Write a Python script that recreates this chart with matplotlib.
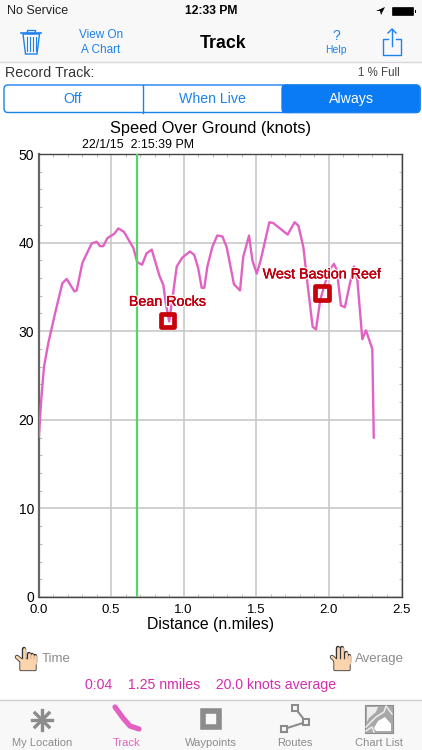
import matplotlib
matplotlib.use("Agg")
import matplotlib.pyplot as plt
import matplotlib.patheffects as pe
from matplotlib.patches import Rectangle, FancyBboxPatch, Polygon
from matplotlib.ticker import MultipleLocator

plt.rcParams['font.family'] = ['Liberation Sans', 'DejaVu Sans']

distance = [0.003, 0.017, 0.038, 0.068, 0.114, 0.164, 0.194, 0.247, 0.263, 0.302, 0.366, 0.40,
            0.424, 0.446, 0.474, 0.522, 0.55, 0.589, 0.653, 0.68, 0.713, 0.745, 0.78, 0.832,
            0.86, 0.876, 0.90, 0.924, 0.952, 0.99, 1.043, 1.073, 1.10, 1.124, 1.142, 1.163,
            1.197, 1.231, 1.266, 1.296, 1.346, 1.388, 1.41, 1.45, 1.473, 1.503, 1.53, 1.59,
            1.617, 1.716, 1.764, 1.79, 1.824, 1.858, 1.888, 1.911, 1.94, 1.973, 2.003, 2.035,
            2.054, 2.083, 2.11, 2.145, 2.173, 2.196, 2.23, 2.255, 2.299, 2.309]
speed = [18.1, 21.9, 26.0, 28.7, 32.0, 35.4, 35.9, 34.5, 34.6, 37.7, 39.9, 40.1,
         39.6, 39.6, 40.5, 41.0, 41.6, 41.2, 39.4, 37.8, 37.5, 38.8, 39.2, 36.3,
         35.2, 33.2, 31.1, 33.9, 37.3, 38.3, 39.0, 38.6, 37.1, 34.9, 34.9, 37.3,
         39.5, 40.8, 40.7, 39.5, 35.3, 34.6, 38.4, 40.8, 38.0, 36.5, 38.0, 42.3,
         42.2, 40.9, 42.3, 41.9, 39.5, 34.6, 30.5, 30.2, 33.5, 35.4, 36.9, 37.6,
         36.9, 32.9, 32.7, 35.4, 37.3, 35.8, 29.1, 30.1, 28.0, 18.0]

cursor_distance = 0.68
waypoint_names = ["Bean Rocks", "West Bastion Reef"]
waypoint_x = [0.888, 1.952]
waypoint_y = [31.2, 34.3]

x_ticks = [0.0, 0.5, 1.0, 1.5, 2.0, 2.5]
y_ticks = [0, 10, 20, 30, 40, 50]
tab_names = ["My Location", "Track", "Waypoints", "Routes", "Chart List"]
tab_centers = [42, 127, 211, 295, 379]

BLUE = "#1c82ee"
PINK = "#e262c4"
MAGENTA = "#d52eac"
GREY = "#8c8c8c"
SKIN = "#fbd3ad"

fig = plt.figure(figsize=(4.22, 7.5), dpi=100, facecolor="white")

# screen furniture, in pixel coordinates
ui = fig.add_axes([0, 0, 1, 1], zorder=0)
ui.set_xlim(0, 422)
ui.set_ylim(750, 0)
ui.axis("off")


def txt(x, y, s, size, color="black", ha="center", **kw):
    ui.text(x, y, s, fontsize=size, color=color, ha=ha, va="center", **kw)


ui.add_patch(Rectangle((0, 0), 422, 62, fc="#f8f8f8", ec="none"))
ui.plot([0, 422], [62, 62], color="#d8d8d8", lw=1)
txt(7, 11, "No Service", 9.0, "#222222", ha="left")
txt(211, 11, "12:33 PM", 8.7, weight="bold")
ui.add_patch(Polygon([(376, 11), (385, 7), (381, 15), (380, 11)], fc="black"))
ui.add_patch(FancyBboxPatch((393, 8), 20, 7, boxstyle="round,pad=0.5", fc="black", ec="black", lw=0.5))
ui.add_patch(Rectangle((414.5, 10), 1, 3, fc="black"))

# trash icon
ui.add_patch(Polygon([(23, 34), (25.5, 54), (37, 54), (39.5, 34)], fc="none", ec=BLUE, lw=1))
ui.plot([21, 41], [33, 33], color=BLUE, lw=1.2)
ui.add_patch(Rectangle((27, 29.5), 8, 3, fc="none", ec=BLUE, lw=1))
for tx in [27, 30, 33, 36]:
    ui.plot([tx, tx], [37, 51], color=BLUE, lw=0.8)

txt(101, 35, "View On", 8.5, BLUE)
txt(101, 50, "A Chart", 8.5, BLUE)
txt(223, 44, "Track", 12.8, weight="bold")
txt(336, 36, "?", 10, BLUE)
txt(336, 50, "Help", 7.5, BLUE)

# share icon
ui.plot([388, 383, 383, 401, 401, 396], [39, 39, 55, 55, 39, 39], color=BLUE, lw=1)
ui.plot([392, 392], [29, 46], color=BLUE, lw=1)
ui.plot([388, 392, 396], [33, 29, 33], color=BLUE, lw=1)

txt(5, 73, "Record Track:", 10.3, "#333333", ha="left")
txt(400, 73, "1 % Full", 8.3, "#444444", ha="right")

# segmented control
ui.add_patch(FancyBboxPatch((4, 85), 416, 27.5, boxstyle="round,pad=0,rounding_size=4", fc="white", ec=BLUE, lw=1))
ui.add_patch(FancyBboxPatch((282, 85), 138, 27.5, boxstyle="round,pad=0,rounding_size=4", fc="#0a7bf5", ec=BLUE, lw=1))
ui.add_patch(Rectangle((282, 84.5), 8, 28.5, fc="#0a7bf5", ec="none"))
ui.plot([142.5, 142.5], [85, 112.5], color=BLUE, lw=1)
txt(72.5, 99, "Off", 10.2, BLUE)
txt(212, 99, "When Live", 10.2, BLUE)
txt(351, 99, "Always", 10.2, "white")

txt(211, 128, "Speed Over Ground (knots)", 11.8)
txt(138, 144.5, "22/1/15  2:15:39 PM", 8.9)

# bottom read-outs
txt(211, 625, "Distance (n.miles)", 11.4)
txt(42, 659, "Time", 9.5, GREY, ha="left")
txt(355, 659, "Average", 9.5, GREY, ha="left")
txt(211, 684.5, "0:04    1.25 nmiles    20.0 knots average", 10.2, MAGENTA)


def hand(x0, thumb_x, fingers):
    # little pointing hand next to Time / Average, fingers are (x, top y)
    outline = "#333333"
    ui.plot([thumb_x, x0 + 3], [657, 663], color=outline, lw=3.2, solid_capstyle="round", zorder=3)
    for fx, top in fingers:
        ui.plot([fx, fx], [top, 662], color=outline, lw=3.2, solid_capstyle="round", zorder=3)
    ui.add_patch(FancyBboxPatch((x0, 660), 14, 9.5, boxstyle="round,pad=1.2", fc=SKIN, ec=outline, lw=0.6, zorder=3))
    ui.plot([thumb_x, x0 + 3], [657, 663], color=SKIN, lw=2.0, solid_capstyle="round", zorder=3)
    for fx, top in fingers:
        ui.plot([fx, fx], [top, 663], color=SKIN, lw=2.0, solid_capstyle="round", zorder=3)


hand(21, 17, [(24, 649), (28.5, 654), (32, 655), (35, 656)])
hand(335, 332, [(338, 648), (342, 648), (346, 653), (349, 656)])

# tab bar
ui.add_patch(Rectangle((0, 699.5), 422, 50.5, fc="#f8f8f8", ec="none"))
ui.plot([0, 422], [699.5, 699.5], color="#d0d0d0", lw=1)
for name, cx in zip(tab_names, tab_centers):
    txt(cx, 743, name, 8.0, PINK if name == "Track" else GREY)

for dx, dy in [(10, 0), (0, 10), (7, 7), (7, -7)]:
    ui.plot([42 - dx, 42 + dx], [720 - dy, 720 + dy], color=GREY, lw=2.4)
ui.plot([115, 123, 130, 139], [707, 718, 726, 729], color=PINK, lw=3.8, solid_capstyle="round")
ui.add_patch(Rectangle((202.5, 711), 16, 16, fc="none", ec=GREY, lw=4))
ui.plot([284, 306, 295], [729, 722, 708], color=GREY, lw=1.5)
for rx, ry in [(281, 726), (303, 719), (292, 705)]:
    ui.add_patch(Rectangle((rx, ry), 6, 6, fc="#f8f8f8", ec=GREY, lw=1.5, zorder=3))

# chart list icon, a small grey map
ui.add_patch(Rectangle((365, 705), 28, 28, fc="#a8a8a8", ec=GREY, lw=0.8))
ui.add_patch(Polygon([(367, 707), (378, 707), (376, 712), (369, 718), (367, 722)], fc="#ececec"))
ui.add_patch(Polygon([(374, 728), (378, 721), (385, 717), (391, 724), (391, 731), (376, 731)], fc="white"))
ui.plot([366, 376, 384, 386, 392], [727, 717, 712, 706, 714], color="#ececec", lw=1.1)
ui.plot([366, 372, 374], [731, 727, 732], color="#ececec", lw=1.1)

# the chart itself
ax = fig.add_axes([38.5 / 422, 153 / 750, 363 / 422, 443 / 750], zorder=1)
ax.patch.set_alpha(0)
ax.set_xlim(0, 2.5)
ax.set_ylim(0, 50)
ax.set_xticks(x_ticks)
ax.set_yticks(y_ticks)
ax.set_xticklabels(["%.1f" % v for v in x_ticks])
ax.xaxis.set_minor_locator(MultipleLocator(0.1))
ax.yaxis.set_minor_locator(MultipleLocator(2))
ax.tick_params(which="both", direction="in", top=True, right=True, color="#b8b8b8", width=0.7)
ax.tick_params(which="major", length=0)
ax.tick_params(axis="x", which="major", labelsize=9.5, pad=5)
ax.tick_params(axis="y", which="major", labelsize=10, pad=3)
ax.tick_params(which="minor", length=2.5)
ax.grid(True, which="major", color="#c8c8c8", lw=1.2)
ax.set_axisbelow(True)
for s in ax.spines.values():
    s.set_color("#444444")
    s.set_linewidth(1.0)
ax.spines["left"].set_color("#666666")
ax.spines["left"].set_linewidth(1.6)

ax.plot(distance, speed, color=PINK, lw=1.7, zorder=3)
ax.axvline(cursor_distance, color="#55d468", lw=1.6, zorder=4)

ax.scatter(waypoint_x, waypoint_y, marker="s", s=92, facecolor="none", edgecolor="#c80008",
           linewidth=3.4, zorder=5)
for name, wx, wy in zip(waypoint_names, waypoint_x, waypoint_y):
    ax.annotate(name, (wx, wy), xytext=(0, 13.5), textcoords="offset points", ha="center", va="center",
                fontsize=10.3, color="#c00010", zorder=6,
                path_effects=[pe.withStroke(linewidth=2.2, foreground="white", alpha=0.85),
                              pe.withStroke(linewidth=0.12, foreground="#c00010")])

fig.savefig("out.png", dpi=100)
